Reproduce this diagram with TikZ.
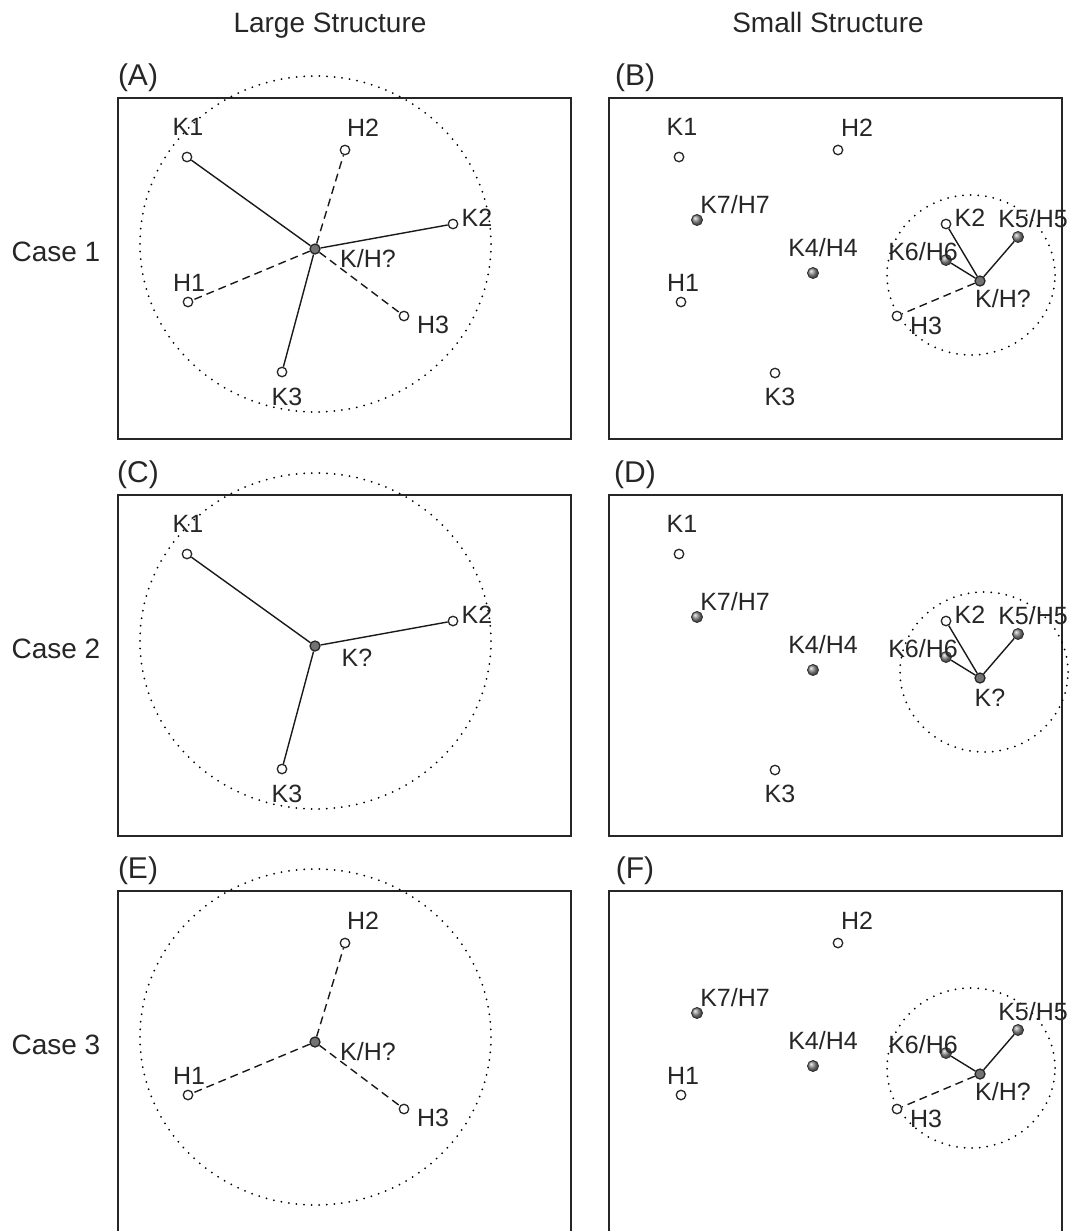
\documentclass[tikz,border=0pt]{standalone}
\usepackage{fontspec}
\setmainfont{Liberation Sans}

\begin{document}
\begin{tikzpicture}[x=1pt, y=-1pt,
	frame/.style={draw=black!85, line width=1.5pt},
	ring/.style={draw=black, line width=2pt, line cap=round, dash pattern=on 0pt off 7.6pt},
	opendot/.style={circle, draw=black!85, fill=white, line width=1.3pt, inner sep=0pt, minimum size=9.5pt},
	greydot/.style={circle, draw=black!80, ball color=black!45, line width=0.9pt, inner sep=0pt, minimum size=11pt},
	querydot/.style={circle, draw=black!85, fill=black!55, line width=1.3pt, inner sep=0pt, minimum size=10pt},
	known/.style={draw=black!90, line width=1.4pt},
	guess/.style={known, dash pattern=on 8pt off 5pt},
	lbl/.style={inner sep=0pt, text height=17.5pt, text depth=0pt, text=black!85, font=\fontsize{25}{29}\selectfont},
	tag/.style={inner sep=0pt, text=black!85, font=\fontsize{30}{34}\selectfont},
	head/.style={inner sep=0pt, text height=20pt, text depth=0pt, text=black!85, font=\fontsize{28}{32}\selectfont}]
	\useasboundingbox (0,0) rectangle (1076,1231);

	%column and row titles
	\node[head] (t-large) at (330,23) {Large Structure};
	\node[head] (t-small) at (828,23) {Small Structure};
	\node[head] (t-case1) at (56,251) {Case 1};
	\node[head] (t-case2) at (56,648) {Case 2};
	\node[head] (t-case3) at (56,1044) {Case 3};

	%(A) large structure, case 1
	\begin{scope}[shift={(118,98)}]
		\draw[frame] (0,0) rectangle (453,341);
		\node[tag] (a-tag) at (20,-20) {(A)};
		\draw[ring] (197.5,146) ellipse [x radius=175.5pt, y radius=168pt];
		\node[opendot] (a-k1) at (69,59) {};
		\node[opendot] (a-h2) at (227,52) {};
		\node[opendot] (a-k2) at (335,126) {};
		\node[opendot] (a-h1) at (70,204) {};
		\node[opendot] (a-h3) at (286,218) {};
		\node[opendot] (a-k3) at (164,274) {};
		\node[querydot] (a-q) at (197,151) {};
		\draw[known] (a-q) -- (a-k1);
		\draw[known] (a-q) -- (a-k2);
		\draw[known] (a-q) -- (a-k3);
		\draw[guess] (a-q) -- (a-h1);
		\draw[guess] (a-q) -- (a-h2);
		\draw[guess] (a-q) -- (a-h3);
		\node[lbl] (a-k1l) at (70,29) {K1};
		\node[lbl] (a-h2l) at (245,30) {H2};
		\node[lbl] (a-k2l) at (359,120) {K2};
		\node[lbl] (a-ql) at (250,161) {K/H?};
		\node[lbl] (a-h1l) at (71,185) {H1};
		\node[lbl] (a-h3l) at (315,227) {H3};
		\node[lbl] (a-k3l) at (169,299) {K3};
	\end{scope}

	%(B) small structure, case 1
	\begin{scope}[shift={(609,98)}]
		\draw[frame] (0,0) rectangle (453,341);
		\node[tag] (b-tag) at (26,-20) {(B)};
		\draw[ring] (362,177) ellipse [x radius=84pt, y radius=80pt];
		\node[opendot] (b-k1) at (70,59) {};
		\node[opendot] (b-h2) at (229,52) {};
		\node[greydot] (b-k7) at (88,122) {};
		\node[greydot] (b-k4) at (204,175) {};
		\node[opendot] (b-h1) at (72,204) {};
		\node[opendot] (b-k3) at (166,275) {};
		\node[opendot] (b-k2) at (337,126) {};
		\node[greydot] (b-k5) at (409,139) {};
		\node[greydot] (b-k6) at (337,162) {};
		\node[opendot] (b-h3) at (288,218) {};
		\node[querydot] (b-q) at (371,183) {};
		\draw[known] (b-q) -- (b-k2);
		\draw[known] (b-q) -- (b-k5);
		\draw[known] (b-q) -- (b-k6);
		\draw[guess] (b-q) -- (b-h3);
		\node[lbl] (b-k1l) at (73,29) {K1};
		\node[lbl] (b-h2l) at (248,30) {H2};
		\node[lbl] (b-k7l) at (126,107) {K7/H7};
		\node[lbl] (b-k4l) at (214,150) {K4/H4};
		\node[lbl] (b-h1l) at (74,185) {H1};
		\node[lbl] (b-k3l) at (171,299) {K3};
		\node[lbl] (b-k2l) at (361,120) {K2};
		\node[lbl] (b-k5l) at (424,121) {K5/H5};
		\node[lbl] (b-k6l) at (314,154) {K6/H6};
		\node[lbl] (b-ql) at (394,201) {K/H?};
		\node[lbl] (b-h3l) at (317,228) {H3};
	\end{scope}

	%(C) large structure, case 2
	\begin{scope}[shift={(118,495)}]
		\draw[frame] (0,0) rectangle (453,341);
		\node[tag] (c-tag) at (20,-20) {(C)};
		\draw[ring] (197.5,146) ellipse [x radius=175.5pt, y radius=168pt];
		\node[opendot] (c-k1) at (69,59) {};
		\node[opendot] (c-k2) at (335,126) {};
		\node[opendot] (c-k3) at (164,274) {};
		\node[querydot] (c-q) at (197,151) {};
		\draw[known] (c-q) -- (c-k1);
		\draw[known] (c-q) -- (c-k2);
		\draw[known] (c-q) -- (c-k3);
		\node[lbl] (c-k1l) at (70,29) {K1};
		\node[lbl] (c-k2l) at (359,120) {K2};
		\node[lbl] (c-ql) at (239,163) {K?};
		\node[lbl] (c-k3l) at (169,299) {K3};
	\end{scope}

	%(D) small structure, case 2
	\begin{scope}[shift={(609,495)}]
		\draw[frame] (0,0) rectangle (453,341);
		\node[tag] (d-tag) at (26,-20) {(D)};
		\draw[ring] (375,177) ellipse [x radius=84pt, y radius=80pt];
		\node[opendot] (d-k1) at (70,59) {};
		\node[greydot] (d-k7) at (88,122) {};
		\node[greydot] (d-k4) at (204,175) {};
		\node[opendot] (d-k3) at (166,275) {};
		\node[opendot] (d-k2) at (337,126) {};
		\node[greydot] (d-k5) at (409,139) {};
		\node[greydot] (d-k6) at (337,162) {};
		\node[querydot] (d-q) at (371,183) {};
		\draw[known] (d-q) -- (d-k2);
		\draw[known] (d-q) -- (d-k5);
		\draw[known] (d-q) -- (d-k6);
		\node[lbl] (d-k1l) at (73,29) {K1};
		\node[lbl] (d-k7l) at (126,107) {K7/H7};
		\node[lbl] (d-k4l) at (214,150) {K4/H4};
		\node[lbl] (d-k3l) at (171,299) {K3};
		\node[lbl] (d-k2l) at (361,120) {K2};
		\node[lbl] (d-k5l) at (424,121) {K5/H5};
		\node[lbl] (d-k6l) at (314,154) {K6/H6};
		\node[lbl] (d-ql) at (381,203) {K?};
	\end{scope}

	%(E) large structure, case 3 (frame runs off the page)
	\begin{scope}[shift={(118,891)}]
		\draw[frame] (0,340) -- (0,0) -- (453,0) -- (453,340);
		\node[tag] (e-tag) at (20,-20) {(E)};
		\draw[ring] (197.5,146) ellipse [x radius=175.5pt, y radius=168pt];
		\node[opendot] (e-h2) at (227,52) {};
		\node[opendot] (e-h1) at (70,204) {};
		\node[opendot] (e-h3) at (286,218) {};
		\node[querydot] (e-q) at (197,151) {};
		\draw[guess] (e-q) -- (e-h1);
		\draw[guess] (e-q) -- (e-h2);
		\draw[guess] (e-q) -- (e-h3);
		\node[lbl] (e-h2l) at (245,30) {H2};
		\node[lbl] (e-ql) at (250,161) {K/H?};
		\node[lbl] (e-h1l) at (71,185) {H1};
		\node[lbl] (e-h3l) at (315,227) {H3};
	\end{scope}

	%(F) small structure, case 3
	\begin{scope}[shift={(609,891)}]
		\draw[frame] (0,340) -- (0,0) -- (453,0) -- (453,340);
		\node[tag] (f-tag) at (26,-20) {(F)};
		\draw[ring] (362,177) ellipse [x radius=84pt, y radius=80pt];
		\node[opendot] (f-h2) at (229,52) {};
		\node[greydot] (f-k7) at (88,122) {};
		\node[greydot] (f-k4) at (204,175) {};
		\node[opendot] (f-h1) at (72,204) {};
		\node[greydot] (f-k5) at (409,139) {};
		\node[greydot] (f-k6) at (337,162) {};
		\node[opendot] (f-h3) at (288,218) {};
		\node[querydot] (f-q) at (371,183) {};
		\draw[known] (f-q) -- (f-k5);
		\draw[known] (f-q) -- (f-k6);
		\draw[guess] (f-q) -- (f-h3);
		\node[lbl] (f-h2l) at (248,30) {H2};
		\node[lbl] (f-k7l) at (126,107) {K7/H7};
		\node[lbl] (f-k4l) at (214,150) {K4/H4};
		\node[lbl] (f-h1l) at (74,185) {H1};
		\node[lbl] (f-k5l) at (424,121) {K5/H5};
		\node[lbl] (f-k6l) at (314,154) {K6/H6};
		\node[lbl] (f-ql) at (394,201) {K/H?};
		\node[lbl] (f-h3l) at (317,228) {H3};
	\end{scope}

\end{tikzpicture}
\end{document}
